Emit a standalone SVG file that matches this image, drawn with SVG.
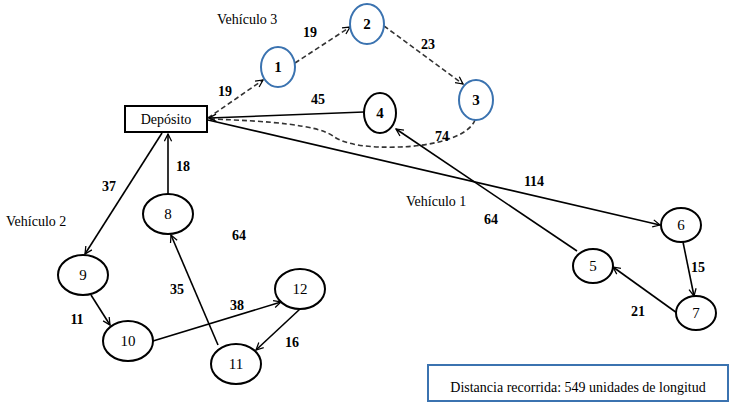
<svg xmlns="http://www.w3.org/2000/svg" width="730" height="403" viewBox="0 0 730 403" font-family="'Liberation Serif', 'DejaVu Serif', serif">
  <defs>
    <marker id="arr" viewBox="0 0 10 10" refX="9" refY="5" markerWidth="9" markerHeight="9" markerUnits="userSpaceOnUse" orient="auto">
      <path d="M1,1 L9,5 L1,9" fill="none" stroke="#000" stroke-width="1.4"/>
    </marker>
  </defs>
  <style>
    text { fill: #000; }
    .node { fill: #fff; stroke: #000; stroke-width: 2; }
    .blue { fill: #fff; stroke: #3b73b0; stroke-width: 2; }
    .lbl { font-size: 15px; text-anchor: middle; }
    .bl { font-size: 15px; font-weight: bold; text-anchor: middle; }
    .w { font-size: 14px; font-weight: bold; text-anchor: middle; }
    .veh { font-size: 14px; }
    .e { fill: none; stroke: #000; stroke-width: 1.6; marker-end: url(#arr); }
    .d { fill: none; stroke: #333; stroke-width: 1.6; stroke-dasharray: 5 3; }
  </style>

  <rect width="730" height="403" fill="#fff"/>

  <!-- connectors -->
  <g id="edges">
    <!-- vehicle 3 (dashed) -->
    <line class="d" x1="208" y1="118" x2="263" y2="80" marker-end="url(#arr)"/>
    <line class="d" x1="295" y1="63" x2="350" y2="27" marker-end="url(#arr)"/>
    <line class="d" x1="384" y1="26" x2="463" y2="84" marker-end="url(#arr)"/>
    <path class="d" d="M475,120 C468,138 430,146 400,147 C370,148 345,145 333,136 C318,125 270,121 210,119"/>
    <!-- vehicle 1 -->
    <line class="e" x1="364" y1="112" x2="209" y2="118"/>
    <line class="e" x1="208" y1="120" x2="660" y2="225"/>
    <line class="e" x1="577" y1="251" x2="396" y2="129"/>
    <line class="e" x1="683" y1="242" x2="694" y2="296"/>
    <line class="e" x1="677" y1="313" x2="613" y2="267"/>
    <!-- vehicle 2 -->
    <line class="e" x1="162" y1="133" x2="85" y2="254"/>
    <line class="e" x1="168" y1="194" x2="168" y2="134"/>
    <line class="e" x1="91" y1="295" x2="110" y2="325"/>
    <line class="e" x1="153" y1="341" x2="281" y2="302"/>
    <line class="e" x1="300" y1="309" x2="256" y2="350"/>
    <line class="e" x1="218" y1="345" x2="171" y2="235"/>
  </g>

  <!-- nodes -->
  <g id="deposito">
    <rect x="125" y="106" width="82" height="26" fill="#fff" stroke="#000" stroke-width="2"/>
    <text class="lbl" x="166" y="124" style="font-size:14px">Depósito</text>
  </g>
  <g id="n1"><ellipse class="blue" cx="278" cy="67" rx="17" ry="20"/><text class="bl" x="278" y="72">1</text></g>
  <g id="n2"><ellipse class="blue" cx="367" cy="24" rx="17" ry="20"/><text class="bl" x="367" y="29">2</text></g>
  <g id="n3"><ellipse class="blue" cx="476" cy="100" rx="17" ry="20"/><text class="bl" x="476" y="105">3</text></g>
  <g id="n4"><ellipse class="node" cx="380" cy="113" rx="16" ry="20"/><text class="bl" x="380" y="118">4</text></g>
  <g id="n5"><ellipse class="node" cx="593" cy="266" rx="20" ry="17"/><text class="lbl" x="593" y="271">5</text></g>
  <g id="n6"><ellipse class="node" cx="681" cy="225" rx="20" ry="17"/><text class="lbl" x="681" y="230">6</text></g>
  <g id="n7"><ellipse class="node" cx="696" cy="313" rx="20" ry="17"/><text class="lbl" x="696" y="318">7</text></g>
  <g id="n8"><ellipse class="node" cx="168" cy="214" rx="25" ry="20"/><text class="lbl" x="168" y="219">8</text></g>
  <g id="n9"><ellipse class="node" cx="83" cy="275" rx="25" ry="20"/><text class="lbl" x="83" y="280">9</text></g>
  <g id="n10"><ellipse class="node" cx="128" cy="341" rx="25" ry="20"/><text class="lbl" x="128" y="346">10</text></g>
  <g id="n11"><ellipse class="node" cx="236" cy="364" rx="25" ry="20"/><text class="lbl" x="236" y="369">11</text></g>
  <g id="n12"><ellipse class="node" cx="300" cy="289" rx="25" ry="20"/><text class="lbl" x="300" y="294">12</text></g>

  <!-- edge weights -->
  <g id="weights">
    <text class="w" x="310" y="37">19</text>
    <text class="w" x="428" y="49">23</text>
    <text class="w" x="225" y="96">19</text>
    <text class="w" x="318" y="104">45</text>
    <text class="w" x="442" y="141">74</text>
    <text class="w" x="183" y="171">18</text>
    <text class="w" x="109" y="191">37</text>
    <text class="w" x="239" y="240">64</text>
    <text class="w" x="177" y="294">35</text>
    <text class="w" x="237" y="310">38</text>
    <text class="w" x="77" y="324">11</text>
    <text class="w" x="292" y="347">16</text>
    <text class="w" x="534" y="186">114</text>
    <text class="w" x="491" y="224">64</text>
    <text class="w" x="698" y="272">15</text>
    <text class="w" x="638" y="316">21</text>
  </g>

  <!-- route labels -->
  <text class="veh" x="217" y="24">Vehículo 3</text>
  <text class="veh" x="6" y="226">Vehículo 2</text>
  <text class="veh" x="406" y="206">Vehículo 1</text>

  <!-- total distance -->
  <g id="total">
    <rect x="428" y="365" width="300" height="36" fill="#fff" stroke="#3b73b0" stroke-width="2"/>
    <text x="578" y="392" style="font-size:14px" text-anchor="middle">Distancia recorrida: 549 unidades de longitud</text>
  </g>
</svg>
